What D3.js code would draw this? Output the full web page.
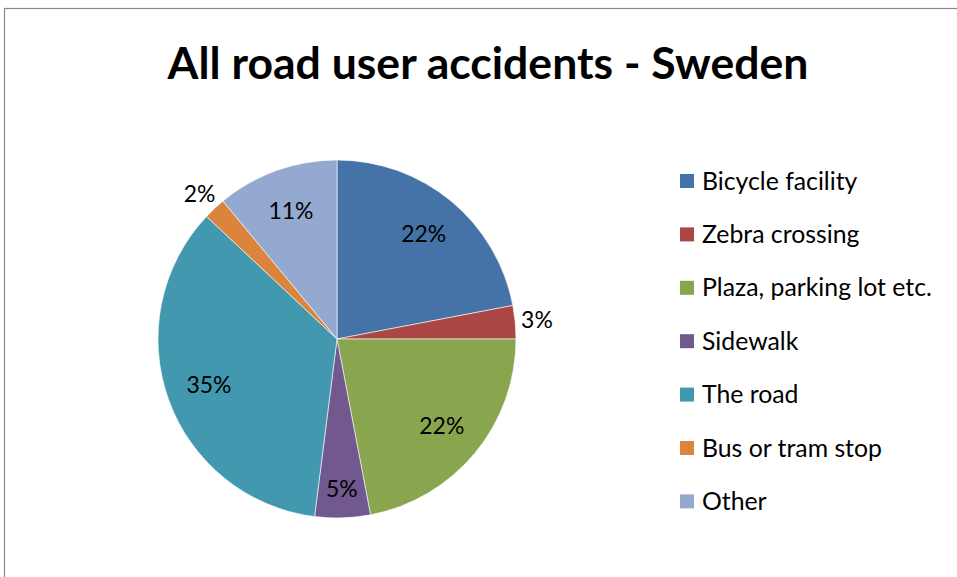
<!DOCTYPE html>
<html>
<head>
<meta charset="utf-8">
<script src="https://cdn.jsdelivr.net/npm/d3@7"></script>
<style>
  body { margin: 0; background: #fff; }
  svg { display: block; }
  text { font-family: Lato, "Open Sans", sans-serif; fill: #000; }
</style>
</head>
<body>
<div id="chart"></div>
<script>
// Chart data
var categories = ['Bicycle facility', 'Zebra crossing', 'Plaza, parking lot etc.', 'Sidewalk', 'The road', 'Bus or tram stop', 'Other'];
var values = [22, 3, 22, 5, 35, 2, 11];
var colors = ['#4572A7', '#AA4643', '#89A54E', '#71588F', '#4198AF', '#DB843D', '#93A9CF'];
var title = 'All road user accidents - Sweden';

(function () {
  var width = 957, height = 577;
  var cx = 337, cy = 339, radius = 179;

  var svg = d3.select('#chart')
      .append('svg')
      .attr('width', width)
      .attr('height', height);

  // chart area border (runs off the right and bottom edge)
  svg.append('rect')
      .attr('x', 4.5)
      .attr('y', 8.5)
      .attr('width', 1200)
      .attr('height', 1200)
      .attr('fill', '#fff')
      .attr('stroke', '#8a8a8a')
      .attr('stroke-width', 1.2);

  // Title, sized to span the same width as the reference
  var titleText = svg.append('text')
      .attr('x', 488)
      .attr('y', 79)
      .style('text-anchor', 'middle')
      .style('font-weight', 'bold')
      .style('font-size', '36px')
      .text(title);
  var tw = titleText.node().getComputedTextLength();
  titleText.style('font-size', (36 * 641 / tw) + 'px');

  var data = categories.map(function (c, i) {
    return {name: c, value: values[i], color: colors[i]};
  });

  var pie = d3.pie()
      .sort(null)
      .value(function (d) { return d.value; });

  var arc = d3.arc().innerRadius(0).outerRadius(radius);

  var g = svg.append('g')
      .attr('transform', 'translate(' + cx + ',' + cy + ')');

  var arcs = pie(data);

  g.selectAll('path.slice')
      .data(arcs)
      .enter().append('path')
      .attr('class', 'slice')
      .attr('d', arc)
      .attr('fill', function (d) { return d.data.color; })
      .attr('stroke', '#fff')
      .attr('stroke-width', 0.6);

  // percentage labels, font scaled so "22%" is ~45px wide
  var total = d3.sum(values);
  var fmt = function (d) { return Math.round(d.data.value / total * 100) + '%'; };

  var probe = g.append('text').style('font-size', '22px').text('22%');
  var pctSize = 22 * 45 / probe.node().getComputedTextLength();
  probe.remove();

  arcs.forEach(function (d) {
    var a = (d.startAngle + d.endAngle) / 2;
    var share = d.data.value / total;
    var t = g.append('text')
        .style('font-size', pctSize + 'px')
        .attr('dy', '0.35em')
        .style('text-anchor', 'middle')
        .text(fmt(d));
    if (share >= 0.04) {
      var lr = share < 0.08 ? radius * 0.84 : radius * 0.76;
      t.attr('x', Math.sin(a) * lr).attr('y', -Math.cos(a) * lr);
    } else {
      // small slices: label just outside the rim
      var or = radius + 6;
      var bb = t.node().getBBox();
      var px = Math.sin(a) * or, py = -Math.cos(a) * or;
      t.attr('x', px + Math.sin(a) * bb.width / 2)
       .attr('y', py - Math.cos(a) * bb.height / 2);
    }
  });

  // Legend
  var legend = svg.append('g')
      .attr('transform', 'translate(680,181)');

  var rows = legend.selectAll('g')
      .data(data)
      .enter().append('g')
      .attr('transform', function (d, i) { return 'translate(0,' + (i * 53.4) + ')'; });

  rows.append('rect')
      .attr('x', 0)
      .attr('y', -7)
      .attr('width', 14)
      .attr('height', 14)
      .attr('fill', function (d) { return d.color; });

  var labels = rows.append('text')
      .attr('x', 22)
      .attr('dy', '0.35em')
      .style('font-size', '22px')
      .text(function (d) { return d.name; });

  var longest = d3.max(labels.nodes(), function (n) { return n.getComputedTextLength(); });
  labels.style('font-size', (22 * 230 / longest) + 'px');
})();
</script>
</body>
</html>
